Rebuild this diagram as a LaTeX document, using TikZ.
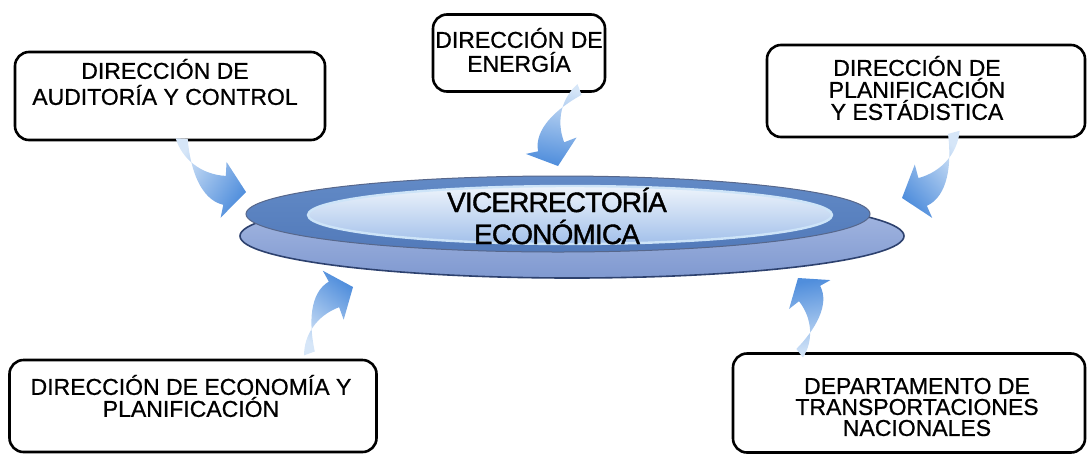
\documentclass[tikz,border=0pt]{standalone}
\usepackage{fontspec}
\setmainfont{Liberation Sans}
\usetikzlibrary{positioning, calc}
\definecolor{arrowhead}{RGB}{80,142,220}
\definecolor{arrowtail}{RGB}{214,230,248}
\definecolor{disktop}{RGB}{170,188,228}
\definecolor{diskbottom}{RGB}{128,153,208}
\definecolor{diskedge}{RGB}{45,65,110}
\definecolor{ringtop}{RGB}{98,138,198}
\definecolor{ringbottom}{RGB}{82,122,186}
\definecolor{innertop}{RGB}{238,244,251}
\definecolor{innerbottom}{RGB}{162,192,234}
\definecolor{innerrim}{RGB}{205,228,248}
\tikzset{
  unitbox/.style={
    rectangle, rounded corners=14pt, draw=black, line width=2.6pt, fill=white
  },
  unittext/.style={
    align=center, inner sep=0pt,
    font=\fontsize{23}{#1}\selectfont\addfontfeature{FakeBold=0.8}
  },
  unittext/.default=22,
  centertext/.style={
    align=center, inner sep=0pt,
    font=\fontsize{28}{32}\selectfont\addfontfeature{LetterSpace=-3,FakeBold=1.4}
  },
  pics/bendarrow/.style={
    code={
      \path[left color=arrowtail, right color=arrowhead, shading angle=#1]
        (0,0) -- (-21,-29) -- (-21,-15)
        .. controls (-46,-15) and (-66,-30) .. (-73,-50)
        -- (-61,-50)
        .. controls (-57,-20) and (-45,10) .. (-22,14)
        -- (-24,27) -- cycle;
    }
  }
}
\begin{document}
\begin{tikzpicture}[x=1pt, y=-1pt]
\useasboundingbox (0,0) rectangle (1091,456);

% central disk
\path[top color=disktop, bottom color=diskbottom, draw=diskedge, line width=1.6pt]
  (572,236) ellipse [x radius=332pt, y radius=42pt];
\path[top color=ringtop, bottom color=ringbottom, draw=diskedge!80, line width=1pt]
  (558,214) ellipse [x radius=312pt, y radius=38pt];
\path[top color=innertop, bottom color=innerbottom, draw=innerrim, line width=2.4pt]
  (570,215) ellipse [x radius=262pt, y radius=29pt];
\node[centertext] (vre) at (557,216) {VICERRECTORÍA\\ECONÓMICA};

% units
\node[unitbox, minimum width=310pt, minimum height=88pt] (aud) at (170,96) {};
\node[unittext=26] (audtxt) at (165,82)
  {DIRECCIÓN DE\\AUDITORÍA Y CONTROL};
\node[unitbox, minimum width=172pt, minimum height=77pt] (ene) at (519,53) {};
\node[unittext=24] (enetxt) at (519,50)
  {DIRECCIÓN DE\\ENERGÍA};
\node[unitbox, minimum width=318pt, minimum height=92pt] (pla) at (926,91) {};
\node[unittext] (platxt) at (917,88)
  {DIRECCIÓN DE\\PLANIFICACIÓN\\Y ESTÁDISTICA};
\node[unitbox, minimum width=367pt, minimum height=92pt] (eco) at (193,406) {};
\node[unittext] (ecotxt) at (191,396)
  {DIRECCIÓN DE ECONOMÍA Y\\PLANIFICACIÓN};
\node[unitbox, minimum width=352pt, minimum height=99pt] (dep) at (909,403) {};
\node[unittext=21] (deptxt) at (917,407)
  {DEPARTAMENTO DE\\TRANSPORTACIONES\\NACIONALES};

% curved arrows into the centre
\pic (arraud) [rotate=-3] at (246,192) {bendarrow=57};
\pic (arrene) [rotate=-69, scale=0.95] at (558,166) {bendarrow=-10};
\pic (arrpla) [rotate=195, yscale=-1] at (902,198) {bendarrow=312};
\pic (arreco) [rotate=20, yscale=-1, scale=0.95] at (353,287) {bendarrow=142};
\pic (arrdep) [rotate=128, scale=0.9] at (798,278) {bendarrow=190};

\end{tikzpicture}
\end{document}
